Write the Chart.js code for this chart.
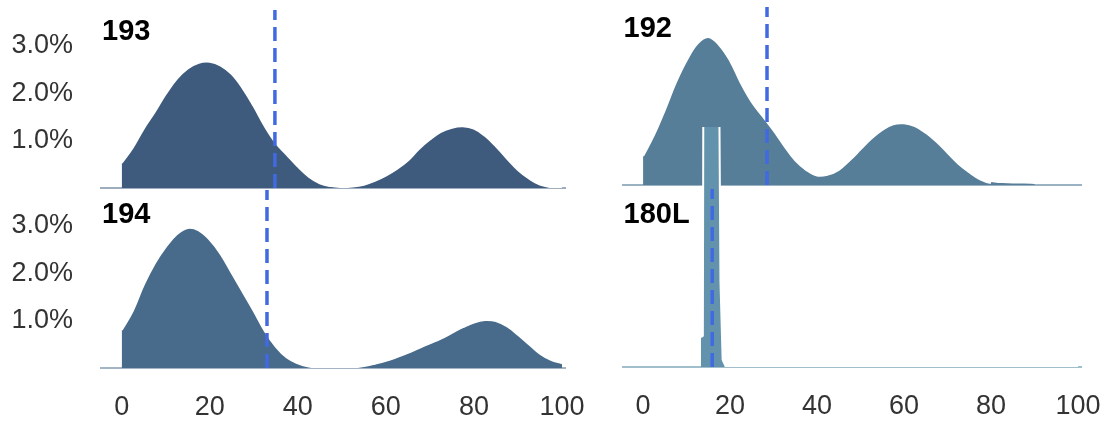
<!DOCTYPE html>
<html>
<head>
<meta charset="utf-8">
<script src="https://cdn.jsdelivr.net/npm/chart.js@4.4.1/dist/chart.umd.min.js"></script>
<style>
  html, body { margin: 0; padding: 0; background: #fff; }
  body { width: 1112px; height: 423px; position: relative; overflow: hidden; }
  canvas { position: absolute; }
</style>
</head>
<body>
<canvas id="c193" width="600" height="200" style="left:0px;top:0px"></canvas>
<canvas id="c192" width="532" height="200" style="left:580px;top:0px"></canvas>
<canvas id="c194" width="600" height="243" style="left:0px;top:180px"></canvas>
<canvas id="c180" width="532" height="323" style="left:580px;top:100px"></canvas>
<script>
// density estimates, % of samples at each score
const grid = [0, 2.5, 5, 7.5, 10, 12.5, 15, 17.5, 20, 22.5, 25, 27.5, 30, 32.5, 35, 37.5,
  40, 42.5, 45, 47.5, 50, 52.5, 55, 57.5, 60, 62.5, 65, 67.5, 70, 72.5, 75, 77.5,
  80, 82.5, 85, 87.5, 90, 92.5, 95, 97.5, 100];

const dens193 = [0.53, 0.85, 1.25, 1.6, 1.98, 2.3, 2.52, 2.64, 2.66, 2.58, 2.4, 2.1, 1.72, 1.3, 0.95, 0.7,
  0.45, 0.24, 0.1, 0.04, 0.02, 0.03, 0.07, 0.15, 0.26, 0.4, 0.58, 0.82, 1.02, 1.18, 1.27, 1.3,
  1.25, 1.1, 0.88, 0.62, 0.38, 0.2, 0.07, 0.02, 0.01];

const dens192 = [0.61, 1.05, 1.58, 2.15, 2.62, 2.98, 3.12, 2.95, 2.62, 2.15, 1.75, 1.45, 1.15, 0.82, 0.52, 0.32,
  0.2, 0.22, 0.32, 0.52, 0.75, 0.98, 1.16, 1.28, 1.3, 1.24, 1.1, 0.91, 0.68, 0.45, 0.27, 0.12,
  0.04, 0.02, 0.01, 0.01, 0.0];

const dens194 = [0.8, 1.2, 1.75, 2.2, 2.55, 2.82, 2.95, 2.9, 2.7, 2.4, 2.0, 1.6, 1.2, 0.78, 0.45, 0.22,
  0.1, 0.03, 0.01, 0.0, 0.0, 0.01, 0.04, 0.09, 0.15, 0.23, 0.32, 0.42, 0.52, 0.62, 0.74, 0.86,
  0.96, 1.01, 0.99, 0.88, 0.7, 0.5, 0.3, 0.17, 0.1];

// 180L is one narrow spike, so it gets its own x positions
const x180 = [13.3, 13.75, 13.9, 17.4, 17.8, 18.3, 19, 25, 100];
const dens180 = [0.63, 0.66, 7.5, 7.5, 1.8, 0.15, 0.01, 0, 0];

// dashed cut-off per panel
const cut193 = 34.8;
const cut192 = 28.5;
const cut194 = 33.0;
const cut180 = 15.9;

const xTicks = [0, 20, 40, 60, 80, 100];
const yTicks = [1, 2, 3];
const xMin = -4.7, xMax = 100.8;
const yTop = 3.75;

const FONT = '"Liberation Sans", Arial, Helvetica, sans-serif';

const panelName = {
  id: 'panelName',
  afterDraw(chart, args, opts) {
    const ctx = chart.ctx;
    const y = chart.scales.y.getPixelForValue(yTop);
    ctx.save();
    ctx.font = 'bold 29px ' + FONT;
    ctx.fillStyle = '#000';
    ctx.textBaseline = 'middle';
    ctx.fillText(opts.text, chart.chartArea.left + 1, y + opts.dy);
    ctx.restore();
  }
};

function toPoints(xs, ys) {
  return ys.map((v, i) => ({x: xs[i], y: v}));
}

// keep the plot area exactly where the layout padding puts it
function noScalePadding(s) {
  s.paddingTop = 0; s.paddingBottom = 0;
  s.paddingLeft = 0; s.paddingRight = 0;
}

function makePanel(id, p) {
  const ctx = document.getElementById(id).getContext('2d');
  return new Chart(ctx, {
    type: 'line',
    data: {
      datasets: [
        {
          data: [{x: p.cut, y: 0}, {x: p.cut, y: yTop}],
          borderColor: '#4169E1',
          borderWidth: 3.5,
          borderDash: [14, 7],
          pointRadius: 0,
          fill: false,
          order: 0
        },
        {
          data: toPoints(p.xs, p.ys),
          backgroundColor: p.color,
          borderColor: '#ffffff',
          borderWidth: 2,
          pointRadius: 0,
          fill: 'origin',
          tension: p.smooth ? 0.4 : 0,
          // the flat right tail reads as a thin line in the fill colour
          segment: {
            borderColor: c => (p.tailFrom !== undefined && c.p0.parsed.x >= p.tailFrom) ? p.color : undefined
          },
          order: 1
        }
      ]
    },
    options: {
      responsive: false,
      animation: false,
      layout: { padding: p.padding },
      plugins: {
        legend: { display: false },
        tooltip: { enabled: false },
        panelName: { text: p.name, dy: p.nameDy }
      },
      scales: {
        x: {
          type: 'linear',
          min: xMin,
          max: xMax,
          grid: { display: false, drawTicks: false },
          border: { display: true, color: p.baseColor, width: 2 },
          afterBuildTicks: s => { s.ticks = xTicks.map(v => ({value: v})); },
          afterFit: s => { s.height = p.xHeight; noScalePadding(s); },
          ticks: {
            display: p.showX,
            padding: 23,
            color: '#333',
            font: { family: FONT, size: 27 }
          }
        },
        y: {
          display: !!p.showY,
          min: 0,
          max: p.yMax,
          grid: { display: false, drawTicks: false },
          border: { display: false },
          afterBuildTicks: s => { s.ticks = yTicks.map(v => ({value: v})); },
          afterFit: s => { s.width = p.showY ? 101 : 0; noScalePadding(s); },
          ticks: {
            display: !!p.showY,
            padding: 28,
            color: '#333',
            font: { family: FONT, size: 27 },
            callback: v => v.toFixed(1) + '%'
          }
        }
      }
    },
    plugins: [panelName]
  });
}

makePanel('c193', {
  name: '193', nameDy: 22, xs: grid, ys: dens193, cut: cut193, smooth: true,
  color: '#3E5B7D', baseColor: 'rgba(62,91,125,0.5)',
  padding: { top: 10, right: 34.5, bottom: 12, left: 0 },
  xHeight: 0, showX: false, showY: true, yMax: yTop
});

makePanel('c194', {
  name: '194', nameDy: 25, xs: grid, ys: dens194, cut: cut194, smooth: true,
  color: '#486B8B', baseColor: 'rgba(72,107,139,0.5)',
  padding: { top: 10, right: 34.5, bottom: 0, left: 0 },
  xHeight: 55, showX: true, showY: true, yMax: yTop
});

makePanel('c192', {
  name: '192', nameDy: 22, xs: grid, ys: dens192, cut: cut192, smooth: true, tailFrom: 80,
  color: '#567E99', baseColor: 'rgba(86,126,153,0.6)',
  padding: { top: 7, right: 30.5, bottom: 15, left: 42.6 },
  xHeight: 0, showX: false, yMax: yTop
});

makePanel('c180', {
  name: '180L', nameDy: 26, xs: x180, ys: dens180, cut: cut180, smooth: false,
  color: '#6393AC', baseColor: 'rgba(99,147,172,0.6)',
  padding: { top: 27, right: 30.5, bottom: 0, left: 42.6 },
  xHeight: 56, showX: true, yMax: 240 / 47.5
});
</script>
</body>
</html>
